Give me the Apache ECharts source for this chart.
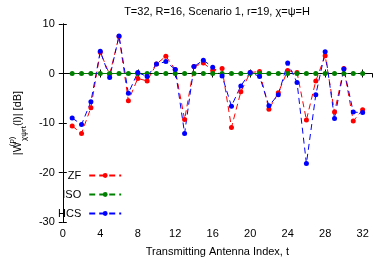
<!DOCTYPE html>
<html><head><meta charset="utf-8">
<script src="https://cdn.jsdelivr.net/npm/echarts@6/dist/echarts.min.js"></script>
<style>html,body{margin:0;padding:0;background:#fff}#c{width:374px;height:263px}</style>
</head><body><div id="c"></div>
<script>
var antennaIndex = [1,2,3,4,5,6,7,8,9,10,11,12,13,14,15,16,17,18,19,20,21,22,23,24,25,26,27,28,29,30,31,32];
var zfValues  = [-10.6,-12.1,-6.9,4.3,-0.2,7.5,-5.5,-1.0,-1.5,1.9,3.5,0.8,-9.3,1.4,2.1,0.6,1.0,-10.9,-3.7,0.2,0.4,-7.2,-3.9,0.6,0.2,-9.4,-1.5,3.6,-7.8,1.0,-9.6,-7.3];
var isoValues = [0,0,0,0,0,0,0,0,0,0,0,0,0,0,0,0,0,0,0,0,0,0,0,0,0,0,0,0,0,0,0,0];
var hcsValues = [-9.0,-10.3,-5.7,4.5,-0.8,7.6,-4.0,0.2,-0.6,1.9,2.4,0.8,-12.1,1.4,2.7,1.25,-0.5,-6.6,-2.5,0.2,-0.6,-6.5,-4.3,2.1,-1.8,-18.2,-4.3,4.4,-9.1,0.9,-7.8,-7.9];
var seriesNames = ['ZF','ISO','HCS'];
var seriesColors = ['#ff0000','#008000','#0000ff'];
var xTicks = {min:0, max:33, interval:4};
var yTicks = {min:-30, max:10, interval:10};

function pairs(v){ return antennaIndex.map(function(t,i){return [t,v[i]];}); }
var F = 'Liberation Sans, Arial, sans-serif';
function mk(name, vals, color){
  return {name:name, type:'line', data:pairs(vals), symbol:'circle', symbolSize:5,
    itemStyle:{color:color}, lineStyle:{color:color, width:1, type:[6,4]}, animation:false};
}
var chart = echarts.init(document.getElementById('c'), null, {renderer:'canvas'});
var axisCommon = {axisLine:{show:true,lineStyle:{color:'#000',width:1}}, axisTick:{show:true,inside:true,length:4,lineStyle:{color:'#000'}}, splitLine:{show:false}};
chart.setOption({
  backgroundColor:'#fff',
  animation:false,
  title:{text:'T=32, R=16, Scenario 1, r=19, χ=ψ=H', left:212, top:1, textAlign:'center',
    textStyle:{fontFamily:F, fontSize:11, fontWeight:'normal', color:'#000'}},
  grid:{left:52, right:2, top:24, bottom:41},
  legend:{orient:'vertical', left:53, top:165, align:'right', itemWidth:32, itemHeight:6, itemGap:8,
    textStyle:{fontFamily:F, fontSize:11, color:'#000', padding:[0,3,0,0]}, data:seriesNames},
  xAxis:[Object.assign({type:'value', min:xTicks.min, max:xTicks.max, interval:xTicks.interval, position:'bottom',
    name:'Transmitting Antenna Index, t', nameLocation:'middle', nameGap:24,
    nameTextStyle:{fontFamily:F, fontSize:11, color:'#000'},
    axisLabel:{fontFamily:F, fontSize:11, color:'#000', showMaxLabel:false, margin:6}}, axisCommon),
    Object.assign({type:'value', min:xTicks.min, max:xTicks.max, interval:xTicks.interval, position:'top', axisLabel:{show:false}}, axisCommon)],
  yAxis:[Object.assign({type:'value', min:yTicks.min, max:yTicks.max, interval:yTicks.interval, position:'left',
    name:'|W{sup|(p)}{sub|χψrt}(l)| [dB]', nameLocation:'middle', nameGap:33, nameRotate:90,
    nameTextStyle:{fontFamily:F, fontSize:11, color:'#000', lineHeight:20,
      rich:{sup:{fontFamily:F, fontSize:8, color:'#000', verticalAlign:'top', lineHeight:20, width:1},
            sub:{fontFamily:F, fontSize:8, color:'#000', verticalAlign:'bottom', lineHeight:20}}},
    axisLabel:{fontFamily:F, fontSize:11, color:'#000', margin:8}}, axisCommon),
    Object.assign({type:'value', min:yTicks.min, max:yTicks.max, interval:yTicks.interval, position:'right', axisLabel:{show:false}}, axisCommon)],
  series:[mk(seriesNames[0], zfValues, seriesColors[0]), mk(seriesNames[1], isoValues, seriesColors[1]), mk(seriesNames[2], hcsValues, seriesColors[2])]
});
</script></body></html>
